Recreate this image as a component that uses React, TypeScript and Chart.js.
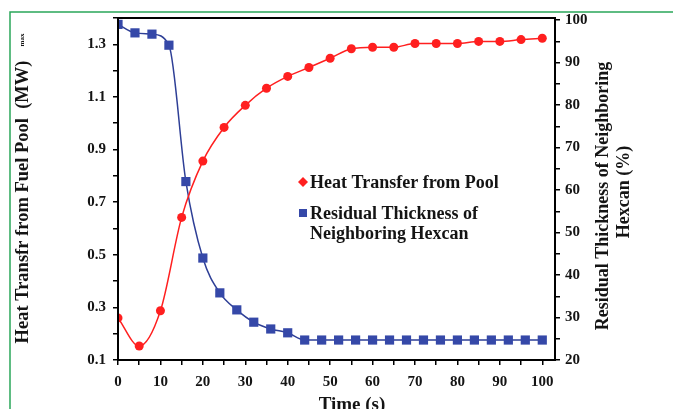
import { useEffect, useRef } from 'react';
import { Chart, registerables } from 'chart.js';

Chart.register(...registerables);

// Heat transfer from pool (MW), sampled every 5 s
const heatTimes = [0, 5, 10, 15, 20, 25, 30, 35, 40, 45, 50, 55, 60, 65, 70, 75, 80, 85, 90, 95, 100];
const heatValues = [0.26, 0.153, 0.287, 0.642, 0.856, 0.984, 1.068, 1.133, 1.178, 1.212, 1.247, 1.283, 1.289, 1.289, 1.303, 1.303, 1.303, 1.311, 1.311, 1.318, 1.323];

// Residual thickness of neighboring hexcan (%), sampled every 4 s
const hexTimes = [0, 4, 8, 12, 16, 20, 24, 28, 32, 36, 40, 44, 48, 52, 56, 60, 64, 68, 72, 76, 80, 84, 88, 92, 96, 100];
const hexValues = [99, 97, 96.7, 94.1, 62, 44, 35.8, 31.8, 28.9, 27.3, 26.4, 24.7, 24.7, 24.7, 24.7, 24.7, 24.7, 24.7, 24.7, 24.7, 24.7, 24.7, 24.7, 24.7, 24.7, 24.7];

const heatLabel = 'Heat Transfer from Pool';
const hexLabelLines = ['Residual Thickness of', 'Neighboring Hexcan'];
const xTitle = 'Time (s)';
const leftTitle = 'Heat Transfr from Fuel Pool  (MW)';
const leftTitleSub = 'max';
const rightTitleLines = ['Residual Thickness of Neighboring', 'Hexcan (%)'];

const FONT = '"Liberation Serif", "Times New Roman", serif';
const RED = '#ff1f1f';
const BLUE = '#3548a8';
const BLUE_LINE = '#2e3f96';
const INK = '#141414';

export default function App() {
  const ref = useRef<HTMLCanvasElement>(null);

  useEffect(() => {
    const canvas = ref.current;
    if (!canvas) return;

    const decor = {
      id: 'decor',
      beforeDraw(chart: any) {
        const ctx = chart.ctx;
        ctx.save();
        ctx.fillStyle = '#ffffff';
        ctx.fillRect(0, 0, chart.width, chart.height);
        ctx.strokeStyle = '#2aa65a';
        ctx.lineWidth = 1.5;
        ctx.beginPath();
        ctx.moveTo(10, chart.height);
        ctx.lineTo(10, 12);
        ctx.lineTo(chart.width, 12);
        ctx.stroke();
        ctx.restore();
      },
      afterDraw(chart: any) {
        const ctx = chart.ctx;
        const a = chart.chartArea;
        ctx.save();
        // frame
        ctx.strokeStyle = '#000';
        ctx.lineWidth = 2;
        ctx.strokeRect(a.left, a.top, a.right - a.left, a.bottom - a.top);

        ctx.fillStyle = INK;
        // x title
        ctx.font = `bold 19px ${FONT}`;
        ctx.textAlign = 'center';
        ctx.textBaseline = 'alphabetic';
        ctx.fillText(xTitle, 352, 410);

        // left title
        ctx.save();
        ctx.translate(23, 202);
        ctx.rotate(-Math.PI / 2);
        ctx.font = `bold 18.5px ${FONT}`;
        ctx.textBaseline = 'middle';
        ctx.textAlign = 'center';
        ctx.fillText(leftTitle, 0, 0);
        ctx.restore();
        ctx.save();
        ctx.translate(22, 40);
        ctx.rotate(-Math.PI / 2);
        ctx.font = `bold 7px ${FONT}`;
        ctx.textBaseline = 'middle';
        ctx.textAlign = 'center';
        ctx.fillText(leftTitleSub, 0, 0);
        ctx.restore();

        // right title
        ctx.font = `bold 18px ${FONT}`;
        ctx.textBaseline = 'middle';
        ctx.textAlign = 'center';
        ctx.save();
        ctx.translate(603, 196);
        ctx.rotate(-Math.PI / 2);
        ctx.fillText(rightTitleLines[0], 0, 0);
        ctx.restore();
        ctx.save();
        ctx.translate(624, 192);
        ctx.rotate(-Math.PI / 2);
        ctx.fillText(rightTitleLines[1], 0, 0);
        ctx.restore();

        // legend
        ctx.textAlign = 'left';
        ctx.font = `bold 18px ${FONT}`;
        ctx.fillStyle = RED;
        ctx.beginPath();
        ctx.moveTo(303, 177);
        ctx.lineTo(308, 182);
        ctx.lineTo(303, 187);
        ctx.lineTo(298, 182);
        ctx.closePath();
        ctx.fill();
        ctx.fillStyle = INK;
        ctx.fillText(heatLabel, 310, 183);

        ctx.fillStyle = BLUE;
        ctx.fillRect(299, 209, 8, 8);
        ctx.fillStyle = INK;
        ctx.fillText(hexLabelLines[0], 310, 214);
        ctx.fillText(hexLabelLines[1], 310, 234);
        ctx.restore();
      },
    };

    const tickFont = { family: FONT, size: 15, weight: 'bold' as const };

    const chart = new Chart(canvas, {
      type: 'line',
      data: {
        datasets: [
          {
            label: heatLabel,
            data: heatTimes.map((t, i) => ({ x: t, y: heatValues[i] })),
            yAxisID: 'y',
            borderColor: RED,
            backgroundColor: RED,
            borderWidth: 1.5,
            pointStyle: 'circle',
            pointRadius: 4.5,
            pointBorderWidth: 0,
            cubicInterpolationMode: 'monotone',
            fill: false,
          },
          {
            label: hexLabelLines.join(' '),
            data: hexTimes.map((t, i) => ({ x: t, y: hexValues[i] })),
            yAxisID: 'y1',
            borderColor: BLUE_LINE,
            backgroundColor: BLUE,
            borderWidth: 1.5,
            pointStyle: 'rect',
            pointRadius: 6.5,
            pointBorderWidth: 0,
            cubicInterpolationMode: 'monotone',
            fill: false,
          },
        ],
      },
      options: {
        responsive: false,
        animation: false,
        devicePixelRatio: 1,
        layout: { padding: { top: 18, left: 0, right: 0, bottom: 0 } },
        plugins: {
          legend: { display: false },
          tooltip: { enabled: false },
        },
        scales: {
          x: {
            type: 'linear',
            position: 'bottom',
            min: 0,
            max: 103,
            afterFit: (s: any) => { s.height = 49; },
            ticks: {
              stepSize: 5,
              includeBounds: false,
              autoSkip: false,
              maxRotation: 0,
              padding: 8,
              color: INK,
              font: tickFont,
              callback: (v: any) => (Number(v) % 10 === 0 ? String(v) : ''),
            },
            grid: { drawOnChartArea: false, drawTicks: true, tickLength: 5, color: '#000', lineWidth: 1.5 },
            border: { display: true, color: '#000', width: 2 },
          },
          y: {
            type: 'linear',
            position: 'left',
            min: 0.1,
            max: 1.4,
            afterFit: (s: any) => { s.width = 118; },
            ticks: {
              stepSize: 0.1,
              includeBounds: false,
              autoSkip: false,
              padding: 7,
              color: INK,
              font: tickFont,
              callback: (v: any) => {
                const k = Math.round(Number(v) * 10);
                return k % 2 === 1 && k <= 13 ? (k / 10).toFixed(1) : '';
              },
            },
            grid: { drawOnChartArea: false, drawTicks: true, tickLength: 5, color: '#000', lineWidth: 1.5 },
            border: { display: true, color: '#000', width: 2 },
          },
          y1: {
            type: 'linear',
            position: 'right',
            min: 20,
            max: 100.5,
            afterFit: (s: any) => { s.width = 118; },
            ticks: {
              stepSize: 5,
              includeBounds: false,
              autoSkip: false,
              padding: 5,
              color: INK,
              font: tickFont,
              callback: (v: any) => (Number(v) % 10 === 0 ? String(v) : ''),
            },
            grid: { drawOnChartArea: false, drawTicks: true, tickLength: 5, color: '#000', lineWidth: 1.5 },
            border: { display: true, color: '#000', width: 2 },
          },
        },
      },
      plugins: [decor],
    });

    return () => chart.destroy();
  }, []);

  return (
    <div style={{ position: 'absolute', left: 0, top: 0, width: 673, height: 409, overflow: 'hidden', background: '#fff' }}>
      <canvas ref={ref} width={673} height={409} style={{ display: 'block', width: 673, height: 409 }} />
    </div>
  );
}
